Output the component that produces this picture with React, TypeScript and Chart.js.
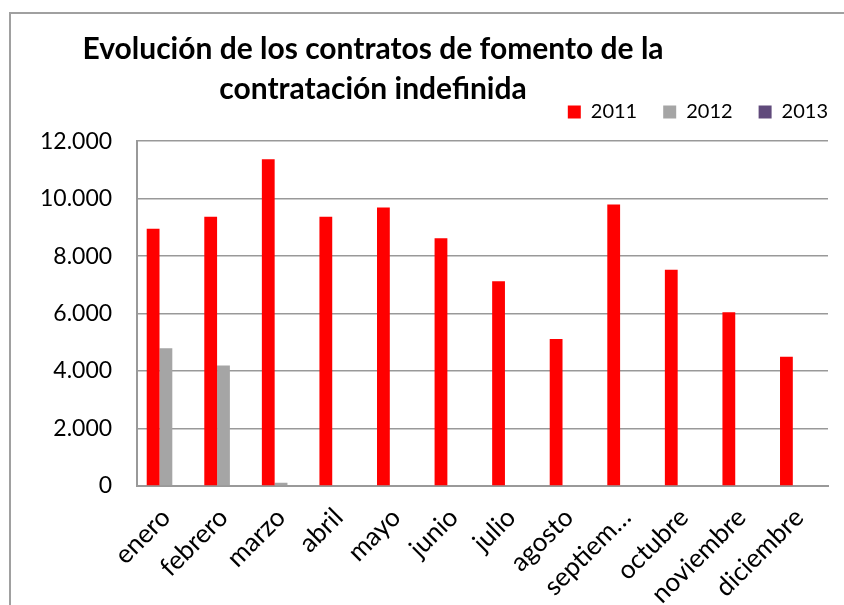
import React, { useEffect, useRef } from "react";
import { Chart, registerables } from "chart.js";

Chart.register(...registerables);

const months = ["enero", "febrero", "marzo", "abril", "mayo", "junio", "julio", "agosto", "septiem…", "octubre", "noviembre", "diciembre"];
const values2011 = [8950, 9370, 11370, 9370, 9690, 8620, 7130, 5120, 9800, 7530, 6050, 4500];
const values2012 = [4790, 4190, 110, 0, 0, 0, 0, 0, 0, 0, 0, 0];
const values2013 = [0, 0, 0, 0, 0, 0, 0, 0, 0, 0, 0, 0];
const titleLines = ["Evolución de los contratos de fomento de la", "contratación indefinida"];
const seriesNames = ["2011", "2012", "2013"];
const seriesColors = ["#ff0000", "#a5a5a5", "#604a7b"];

const FONT = "Lato, 'Open Sans', sans-serif";

const frameTitlePlugin = {
  id: "frameTitle",
  beforeDraw(chart: any) {
    const ctx = chart.ctx;
    ctx.save();
    ctx.fillStyle = "#ffffff";
    ctx.fillRect(0, 0, chart.width, chart.height);
    ctx.strokeStyle = "#a0a0a0";
    ctx.lineWidth = 2;
    ctx.beginPath();
    ctx.moveTo(10, chart.height + 5);
    ctx.lineTo(10, 13);
    ctx.lineTo(chart.width + 5, 13);
    ctx.stroke();
    ctx.restore();
  },
  afterDraw(chart: any) {
    const ctx = chart.ctx;
    ctx.save();
    ctx.fillStyle = "#000000";
    ctx.font = "bold 30px " + FONT;
    ctx.textAlign = "center";
    ctx.textBaseline = "alphabetic";
    ctx.fillText(titleLines[0], 373, 59);
    ctx.fillText(titleLines[1], 373, 99);
    ctx.restore();
  },
};

export default function App() {
  const ref = useRef<HTMLCanvasElement>(null);
  useEffect(() => {
    if (!ref.current) return;
    const datasets = [values2011, values2012, values2013].map((d, i) => ({
      label: seriesNames[i],
      data: d,
      backgroundColor: seriesColors[i],
      borderWidth: 0,
      categoryPercentage: 0.667,
      barPercentage: 1,
    }));
    const chart = new Chart(ref.current, {
      type: "bar",
      data: { labels: months, datasets },
      plugins: [frameTitlePlugin],
      options: {
        animation: false,
        responsive: false,
        layout: { padding: { top: 76, right: -10, left: 15, bottom: 0 } },
        plugins: {
          tooltip: { enabled: false },
          title: { display: false },
          subtitle: {
            display: true,
            text: " ",
            font: { size: 1 },
            padding: { top: 0, bottom: 8 },
            weight: 500,
          } as any,
          legend: {
            display: true,
            position: "top",
            align: "end",
            labels: {
              boxWidth: 13,
              boxHeight: 13,
              padding: 26,
              color: "#000",
              font: { family: FONT, size: 20 },
            },
          },
        },
        scales: {
          x: {
            grid: { display: false, drawTicks: false },
            border: { display: true, color: "#999999", width: 2 },
            ticks: {
              autoSkip: false,
              maxRotation: 45,
              minRotation: 45,
              padding: 16,
              color: "#000",
              font: { family: FONT, size: 26 },
            },
            afterFit: (s: any) => {
              s.height = 119;
            },
          },
          y: {
            min: 0,
            max: 12000,
            grid: { color: "#999999", lineWidth: 1.5, drawTicks: false },
            border: { display: true, color: "#999999", width: 2 },
            ticks: {
              stepSize: 2000,
              padding: 25,
              color: "#000",
              font: { family: FONT, size: 23 },
              callback: (v: any) => Number(v).toLocaleString("de-DE"),
            },
          },
          y2: {
            position: "right",
            display: true,
            grid: { display: false, drawTicks: false },
            border: { display: false },
            ticks: { display: false },
            afterFit: (s: any) => {
              s.width = 26;
            },
          },
        },
      },
    });
    return () => chart.destroy();
  }, []);
  return (
    <div style={{ position: "absolute", left: 0, top: 0, width: 844, height: 605 }}>
      <canvas ref={ref} width={844} height={605} />
    </div>
  );
}
